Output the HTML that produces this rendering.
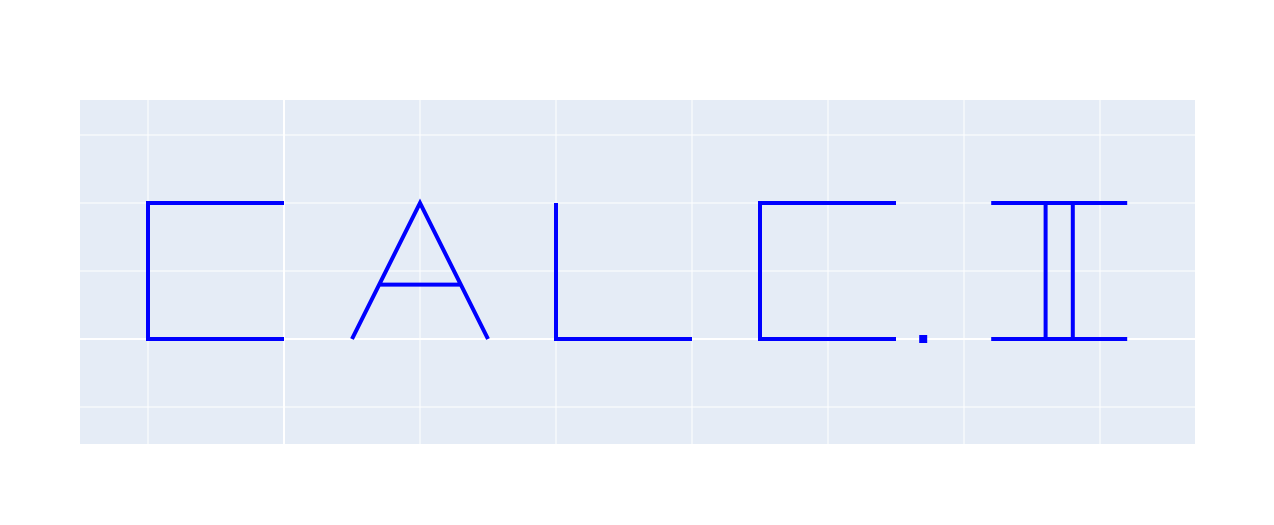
<!DOCTYPE html>
<html><head><meta charset="utf-8">
<style>html,body{margin:0;padding:0;background:#fff;}svg{display:block;}</style>
</head><body>
<svg id="chart" width="1274" height="525" xmlns="http://www.w3.org/2000/svg"></svg>
<script>
// Data: letter strokes (x,y), null = break
const strokeX = [0,-1,-1,0,null, 0.5,1,1.5,null, 0.7,1.3,null, 2,2,3,null, 4.5,3.5,3.5,4.5,null, 5.2,6.2,null, 5.2,6.2,null, 5.6,5.6,null, 5.8,5.8];
const strokeY = [2,2,0,0,null, 0,2,0,null, 0.8,0.8,null, 2,0,0,null, 2,2,0,0,null, 2,2,null, 0,0,null, 0,2,null, 0,2];
const dotX = [4.7];
const dotY = [0];
const xGrid = [-1,0,1,2,3,4,5,6];
const yGrid = [-1,0,1,2,3];

const NS='http://www.w3.org/2000/svg';
const svg=document.getElementById('chart');
const L=80,R=1195,T=100,B=444;
const xMin=-1.5,xMax=(1195-284)/136, yMin=(339-444)/68, yMax=(339-100)/68;
const xs=v=>L+(v-xMin)/(xMax-xMin)*(R-L);
const ys=v=>B-(v-yMin)/(yMax-yMin)*(B-T);
function mk(tag,attrs){const e=document.createElementNS(NS,tag);for(const k in attrs)e.setAttribute(k,attrs[k]);svg.appendChild(e);return e;}
const bg=mk('rect',{x:L,y:T,width:R-L,height:B-T,fill:'#e5ecf6'});


xGrid.forEach(v=>{const px=xs(v);if(px<L||px>R)return;const g=mk('line',{x1:px,x2:px,y1:T,y2:B,stroke:'#fff','stroke-width':v===0?2:1});

});
yGrid.forEach(v=>{const py=ys(v);if(py<T||py>B)return;const g=mk('line',{x1:L,x2:R,y1:py,y2:py,stroke:'#fff','stroke-width':v===0?2:1});

});
let d='',pen=false;
for(let i=0;i<strokeX.length;i++){
  if(strokeX[i]===null){pen=false;continue;}
  d+=(pen?'L':'M')+xs(strokeX[i]).toFixed(1)+' '+ys(strokeY[i]).toFixed(1)+' ';pen=true;
}
const p=mk('path',{d:d,fill:'none',stroke:'#0000ff','stroke-width':4,'stroke-linejoin':'miter','stroke-linecap':'butt'});


dotX.forEach((v,i)=>{const r=mk('rect',{x:xs(v)-4,y:ys(dotY[i])-4,width:8,height:8,fill:'#0000ff'});

});
</script>
</body></html>
